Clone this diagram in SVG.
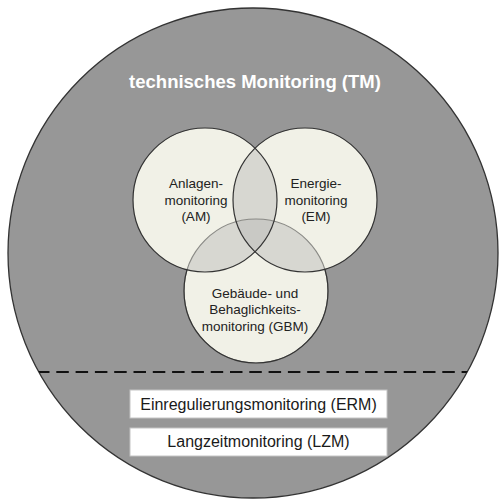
<svg xmlns="http://www.w3.org/2000/svg" width="499" height="500" viewBox="0 0 499 500">
  <style>
    .lbl { font-family: "Liberation Sans", Arial, sans-serif; font-size: 13.5px; fill: #222; text-anchor: middle; }
    .box { fill: #ffffff; stroke: #c4c4c4; stroke-width: 1; }
    .boxtxt { font-family: "Liberation Sans", Arial, sans-serif; font-size: 16px; fill: #1a1a1a; text-anchor: middle; }
    .ring { fill: none; stroke: #333; stroke-width: 1.2; }
  </style>
  <defs>
    <clipPath id="cA"><circle cx="205" cy="200" r="72"/></clipPath>
    <clipPath id="cE"><circle cx="305" cy="200" r="72"/></clipPath>
    <clipPath id="cG"><circle cx="256" cy="291" r="72"/></clipPath>
    <clipPath id="cTM"><circle cx="253" cy="253" r="245"/></clipPath>
    <mask id="outsideAE">
      <rect x="0" y="0" width="499" height="500" fill="#fff"/>
      <circle cx="205" cy="200" r="72" fill="#000"/>
      <circle cx="305" cy="200" r="72" fill="#000"/>
    </mask>
  </defs>

  <!-- technical monitoring area -->
  <g id="tm">
    <circle cx="253" cy="253" r="245" fill="#979797" stroke="#333" stroke-width="1.3"/>
    <text x="255" y="88" font-family="'Liberation Sans', Arial, sans-serif" font-size="18.5" font-weight="bold" fill="#fff" text-anchor="middle">technisches Monitoring (TM)</text>
  </g>

  <!-- overlapping circles: base fills -->
  <g id="fills">
    <circle cx="256" cy="291" r="72" fill="#f1f1e7"/>
    <circle cx="205" cy="200" r="72" fill="#f1f1e7"/>
    <circle cx="305" cy="200" r="72" fill="#f1f1e7"/>
    <circle cx="305" cy="200" r="72" fill="#d7d7d1" clip-path="url(#cA)"/>
    <circle cx="256" cy="291" r="72" fill="#d7d7d1" clip-path="url(#cA)"/>
    <circle cx="256" cy="291" r="72" fill="#d7d7d1" clip-path="url(#cE)"/>
    <g clip-path="url(#cA)">
      <circle cx="305" cy="200" r="72" fill="#c9c9c5" clip-path="url(#cG)"/>
    </g>
  </g>

  <!-- circle outlines -->
  <g id="outlines">
    <circle cx="256" cy="291" r="72" fill="none" stroke="#8a8a86" stroke-width="1.2"/>
    <circle cx="256" cy="291" r="72" class="ring" mask="url(#outsideAE)"/>
    <circle cx="205" cy="200" r="72" class="ring"/>
    <circle cx="305" cy="200" r="72" class="ring"/>
  </g>

  <g id="am">
    <text class="lbl" x="196" y="188">Anlagen-</text>
    <text class="lbl" x="196" y="205">monitoring</text>
    <text class="lbl" x="196" y="221">(AM)</text>
  </g>
  <g id="em">
    <text class="lbl" x="316" y="188">Energie-</text>
    <text class="lbl" x="316" y="205">monitoring</text>
    <text class="lbl" x="316" y="221">(EM)</text>
  </g>
  <g id="gbm">
    <text class="lbl" x="255" y="298">Gebäude- und</text>
    <text class="lbl" x="255" y="314">Behaglichkeits-</text>
    <text class="lbl" x="255" y="331">monitoring (GBM)</text>
  </g>

  <!-- dividing line -->
  <g id="connectors">
    <line x1="37" y1="372" x2="480" y2="372" stroke="#111" stroke-width="2" stroke-dasharray="12.5 6.8" clip-path="url(#cTM)"/>
  </g>

  <g id="erm">
    <rect class="box" x="130" y="390" width="257" height="28"/>
    <text class="boxtxt" x="258.5" y="410">Einregulierungsmonitoring (ERM)</text>
  </g>
  <g id="lzm">
    <rect class="box" x="130" y="428" width="257" height="28"/>
    <text class="boxtxt" x="258.5" y="447">Langzeitmonitoring (LZM)</text>
  </g>
</svg>
